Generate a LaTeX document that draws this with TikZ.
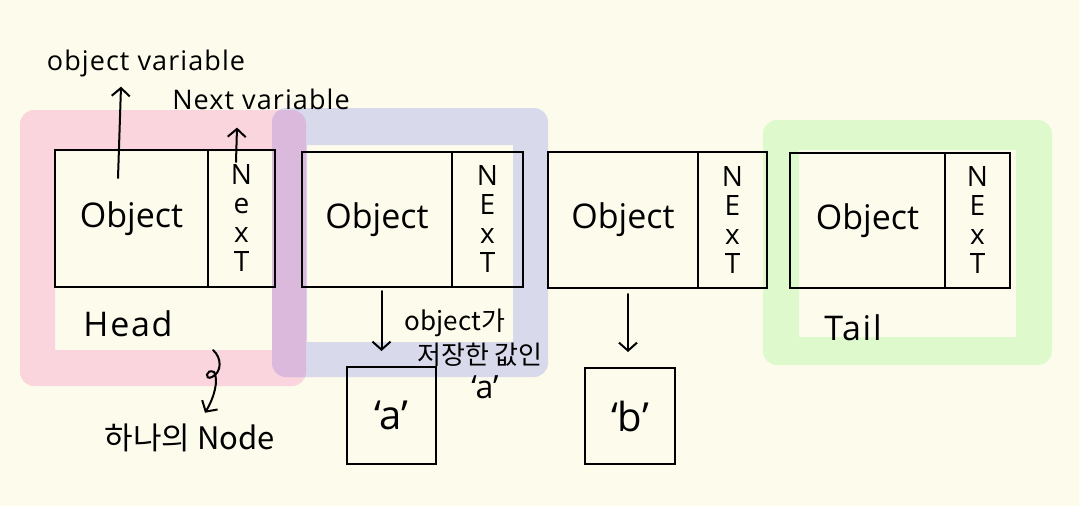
\documentclass[tikz,border=0pt]{standalone}
\usepackage{fontspec}
\setmainfont{Open Sans}
\newfontfamily\kr{Noto Sans CJK KR}
\usetikzlibrary{arrows.meta,calc}
\definecolor{bgc}{RGB}{253,251,236}
\definecolor{pinkf}{RGB}{250,213,222}
\definecolor{bluef}{RGB}{216,218,236}
\definecolor{greenf}{RGB}{222,250,205}
\definecolor{purplef}{RGB}{218,185,221}
\begin{document}
\begin{tikzpicture}[x=1pt,y=-1pt,
  cell/.style={draw=black, line width=2.6pt, inner sep=0pt, outer sep=0pt},
  objtxt/.style={font=\fontsize{34}{36}\selectfont},
  nexttxt/.style={font=\fontsize{28}{29}\selectfont, align=center},
  lbl/.style={font=\fontsize{27}{30}\selectfont\addfontfeatures{LetterSpace=4}, inner sep=0pt},
  big/.style={font=\fontsize{34}{38}\selectfont\addfontfeatures{LetterSpace=5}, inner sep=0pt},
  krl/.style={font=\kr\fontsize{26}{30}\selectfont, inner sep=0pt},
  arr/.style={line width=2pt, line cap=round, -{Straight Barb[length=8pt,width=18pt,line width=2pt]}}
]
\fill[bgc] (0,0) rectangle (1079,506);
\useasboundingbox (0,0) rectangle (1079,506);

% highlight frames
\fill[pinkf, even odd rule] [rounded corners=14] (20,110) rectangle (306,386) [sharp corners] (55,151) rectangle (272,350);
\fill[bluef, even odd rule] [rounded corners=14] (272,108) rectangle (548,377) [sharp corners] (307,145) rectangle (513,342);
\fill[greenf, even odd rule] [rounded corners=14] (763,120) rectangle (1052,365) [sharp corners] (799,150) rectangle (1016,337);
\begin{scope}
  \clip[rounded corners=14] (20,110) rectangle (306,386);
  \fill[purplef, even odd rule] [rounded corners=14] (272,108) rectangle (548,377) [sharp corners] (307,145) rectangle (513,342);
\end{scope}

% nodes of the list
\node[cell, minimum width=153pt, minimum height=137pt, objtxt] (o1) at (131.5,218.5) {Object};
\node[cell, minimum width=67pt, minimum height=137pt, nexttxt] (n1) at (241.5,218.5) {N\\e\\x\\T};
\node[cell, minimum width=150pt, minimum height=135pt, objtxt] (o2) at (377,219.5) {Object};
\node[cell, minimum width=71pt, minimum height=135pt, nexttxt] (n2) at (487.5,219.5) {N\\E\\x\\T};
\node[cell, minimum width=150pt, minimum height=136pt, objtxt] (o3) at (623,220) {Object};
\node[cell, minimum width=69pt, minimum height=136pt, nexttxt] (n3) at (732.5,220) {N\\E\\x\\T};
\node[cell, minimum width=155pt, minimum height=135pt, objtxt] (o4) at (867.5,220.5) {Object};
\node[cell, minimum width=65pt, minimum height=135pt, nexttxt] (n4) at (977.5,220.5) {N\\E\\x\\T};

% value boxes
\node[cell, minimum width=89pt, minimum height=97pt, font=\fontsize{40}{44}\selectfont] (va) at (391.5,415.5) {‘a’};
\node[cell, minimum width=90pt, minimum height=96pt, font=\fontsize{40}{44}\selectfont] (vb) at (630,416) {‘b’};

% labels
\node[lbl] (ov) at (146,63) {object variable};
\node[lbl] (nv) at (261,99) {Next variable};
\node[big] (head) at (128,324) {Head};
\node[big] (tail) at (853,328) {Tail};
\node[font=\kr\fontsize{31}{34}\selectfont, inner sep=0pt] (hn) at (190,438) {하나의 Node};
\node[krl] (l1) at (455,323) {object가};
\node[krl] (l2) at (480,355) {저장한 값인};
\node[font=\fontsize{32}{34}\selectfont, inner sep=0pt] (l3) at (485,387) {‘a’};

% connectors
\coordinate (ovs) at (118,178);
\coordinate (nvs) at (236,162);
\coordinate (cs) at (213,350);
\draw[arr] (ovs) -- ($(ov.south -| ovs)+(3,10)$);
\draw[arr] (nvs) -- ($(nv.south -| nvs)+(1,18)$);
\draw[arr] ([xshift=-10pt]va.north |- o2.south) ++(0,4) -- ([xshift=-10pt,yshift=16pt]va.north);
\draw[arr] (vb.north |- o3.south) ++(-2,6) -- ([xshift=-2pt,yshift=16pt]vb.north);
\draw[arr] (cs) .. controls (222,358) and (222,372) .. (212,377)
  .. controls (204,381) and (206,368) .. (214,372)
  .. controls (219,380) and (214,398) .. ($(hn.north)+(15,-11)$);
\end{tikzpicture}
\end{document}
